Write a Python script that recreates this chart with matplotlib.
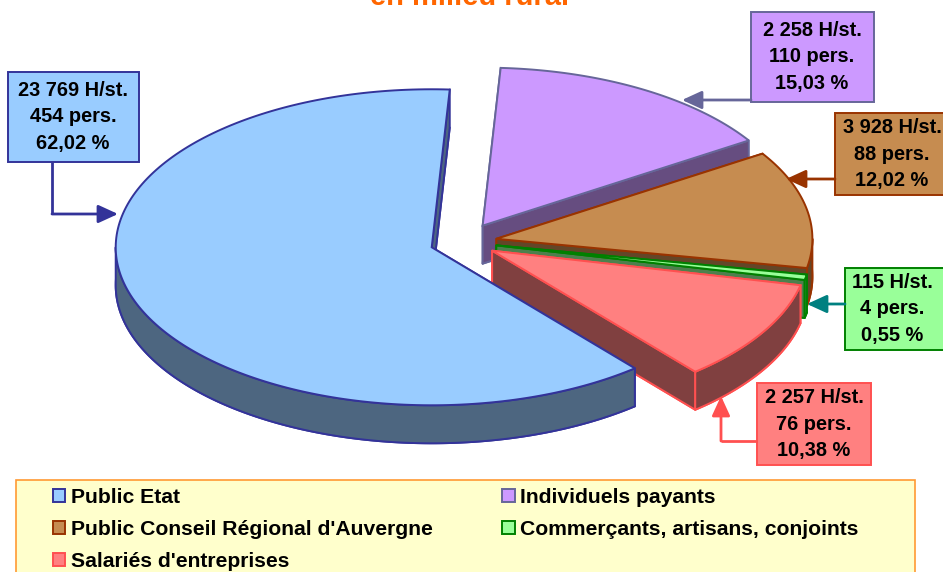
import matplotlib
matplotlib.use("Agg")
import matplotlib.pyplot as plt
from matplotlib.patches import Patch, Polygon, Rectangle
from matplotlib.colors import to_rgb
import numpy as np

categories = ["Public Etat", "Individuels payants", "Public Conseil Régional d'Auvergne",
              "Commerçants, artisans, conjoints", "Salariés d'entreprises"]
percents = [62.02, 15.03, 12.02, 0.55, 10.38]
hours = ["23 769", "2 258", "3 928", "115", "2 257"]
people = [454, 110, 88, 4, 76]

fills = ["#99CCFF", "#CC99FF", "#C68C50", "#99FF99", "#FF8080"]
edges = ["#333399", "#666699", "#993300", "#008000", "#FF5050"]
arrow_colors = ["#333399", "#666699", "#993300", "#008080", "#FF5050"]

plt.rcParams["font.family"] = ["Liberation Sans", "DejaVu Sans"]
plt.rcParams["font.weight"] = "bold"

fig = plt.figure(figsize=(9.43, 5.72), dpi=100)
ax = fig.add_axes([0, 0, 1, 1])
ax.set_xlim(0, 943)
ax.set_ylim(572, 0)
ax.axis("off")

# pie layout, pixels
cx, cy = 463.5, 242
rx, ry = 316, 158
depth = 38
explode = [0.106, 0.12, 0.106, 0.106, 0.106]
start_angle = 310


def arc(x0, y0, a1, a2):
    t = np.radians(np.linspace(a1, a2, 200))
    return np.column_stack([x0 + rx * np.cos(t), y0 - ry * np.sin(t)])


def draw_slice(a1, a2, fill, edge, exp):
    mid = np.radians((a1 + a2) / 2)
    x0 = cx + exp * rx * np.cos(mid)
    y0 = cy - exp * ry * np.sin(mid)
    dark = tuple(c / 2 for c in to_rgb(fill))
    shift = np.array([0, depth])
    top = np.vstack([[x0, y0], arc(x0, y0, a1, a2)])
    style = dict(facecolor=dark, edgecolor=edge, linewidth=1.4, joinstyle="round")
    ax.add_patch(Polygon(top + shift, closed=True, **style))
    # radial faces, the one nearest the viewer last
    for a in (a2, a1):
        p = arc(x0, y0, a, a)[0]
        ax.add_patch(Polygon([[x0, y0], p, p + shift, [x0, y0 + depth]], closed=True, **style))
    # outer rim, only the front part shows
    for k in (-1, 0):
        lo = max(a1, 180 + 360 * k)
        hi = min(a2, 360 + 360 * k)
        if hi > lo:
            rim = arc(x0, y0, lo, hi)
            ax.add_patch(Polygon(np.vstack([rim, rim[::-1] + shift]), closed=True, **style))
    ax.add_patch(Polygon(top, closed=True, facecolor=fill, edgecolor=edge, linewidth=1.4))


# slices run clockwise from the start angle
ends = start_angle - np.cumsum([p / sum(percents) * 360 for p in percents])
starts = np.concatenate([[start_angle], ends[:-1]])

# back to front: purple, brown, green, red, then blue
for i in [1, 2, 3, 4, 0]:
    draw_slice(ends[i], starts[i], fills[i], edges[i], explode[i])

# callouts, pixels: box left, top, right, bottom, text centre
boxes = [(8, 72, 139, 162), (751, 12, 874, 102), (835, 113, 950, 195),
         (845, 268, 950, 350), (757, 383, 871, 465)]
text_x = [73, 812, 892, 892, 814]
arrows = [[(52, 162), (52, 214), (118, 214)], [(751, 100), (682, 100)],
          [(835, 179), (786, 179)], [(845, 304), (807, 304)],
          [(757, 441), (721, 441), (721, 396)]]

for i in range(len(categories)):
    x1, y1, x2, y2 = boxes[i]
    ax.add_patch(Rectangle((x1, y1), x2 - x1, y2 - y1, facecolor=fills[i],
                           edgecolor=edges[i], linewidth=1.4))
    pct = f"{percents[i]:.2f}".replace(".", ",")
    ax.text(text_x[i], (y1 + y2) / 2, f"{hours[i]} H/st.\n{people[i]} pers.\n{pct} %",
            ha="center", va="center", fontsize=14.4, linespacing=1.5, color="black")
    path = arrows[i]
    ax.plot([p[0] for p in path[:-1]], [p[1] for p in path[:-1]], color=arrow_colors[i],
            linewidth=2.0, solid_capstyle="butt")
    ax.annotate("", xy=path[-1], xytext=path[-2],
                arrowprops=dict(arrowstyle="-|>,head_length=1.2,head_width=0.55", color=arrow_colors[i],
                                linewidth=2.0, shrinkA=0, shrinkB=0))

ax.text(470, 5, "en milieu rural", ha="center", va="baseline", fontsize=21, color="#FF6600")

# legend
ax.add_patch(Rectangle((16, 480), 899, 110, facecolor="#FFFFCC", edgecolor="#FF9933", linewidth=1.2))
order = [0, 2, 4, 1, 3]
handles = [Patch(facecolor=fills[i], edgecolor=edges[i], linewidth=1.4) for i in order]
ax.legend(handles, [categories[i] for i in order], ncols=2, frameon=False,
          loc="upper left", bbox_to_anchor=(0.056, 0.147), borderaxespad=0, borderpad=0,
          fontsize=15.2, handlelength=0.6, handleheight=0.6, handletextpad=0.25,
          labelspacing=0.62, columnspacing=3.3)

fig.savefig("out.png", dpi=100)
